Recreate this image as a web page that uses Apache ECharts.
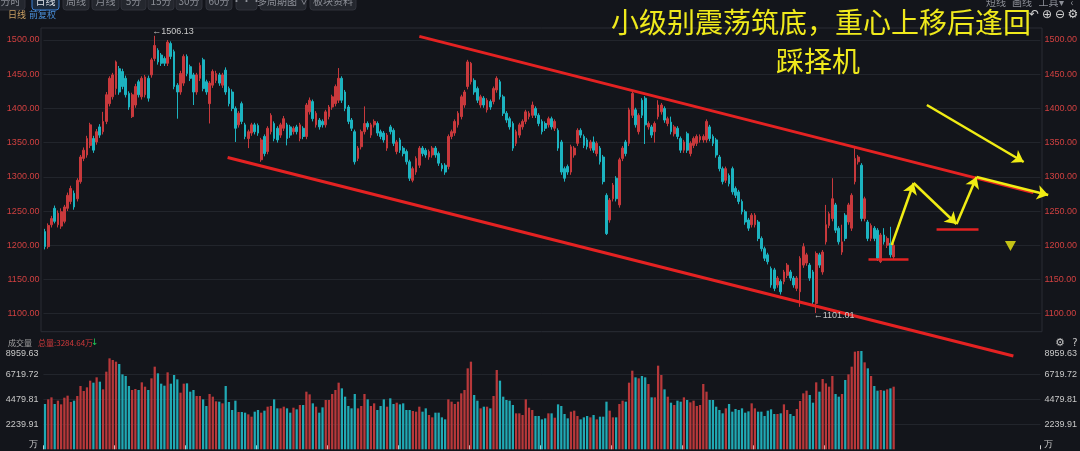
<!DOCTYPE html>
<html><head><meta charset="utf-8">
<script src="https://cdn.jsdelivr.net/npm/echarts@6/dist/echarts.min.js"></script>
<style>html,body{margin:0;padding:0;background:#13151b;}#c{width:1080px;height:451px;}</style>
</head><body><div id="c"></div>
<script>
// ---------- DATA ----------
// candles: [open, close, low, high]
const candles = [
[1220,1198,1194,1224],[1198,1229,1195,1232],[1230,1239,1226,1243],[1254,1235,1232,1258],[1230,1247,1226,1251],
[1228,1249,1224,1254],[1235,1256,1232,1259],[1254,1273,1250,1277],[1264,1283,1260,1287],[1276,1256,1252,1280],
[1268,1295,1264,1298],[1293,1329,1290,1332],[1327,1339,1323,1343],[1332,1356,1328,1360],[1346,1376,1342,1379],
[1356,1339,1335,1360],[1351,1366,1347,1370],[1373,1361,1357,1377],[1366,1381,1362,1395],[1381,1420,1377,1424],
[1407,1444,1403,1447],[1417,1449,1413,1452],[1429,1468,1420,1470],[1458,1424,1420,1462],[1454,1432,1428,1458],
[1444,1420,1416,1448],[1422,1402,1398,1425],[1388,1420,1386,1423],[1405,1432,1401,1436],[1439,1420,1416,1442],
[1417,1444,1413,1447],[1420,1446,1416,1449],[1444,1415,1410,1448],[1449,1471,1445,1474],[1473,1492,1469,1506.13],
[1485,1468,1464,1488],[1478,1466,1462,1481],[1473,1466,1462,1476],[1466,1497,1462,1500],[1495,1476,1472,1498],
[1483,1432,1428,1486],[1434,1424,1385,1437],[1424,1451,1420,1455],[1437,1476,1433,1479],[1476,1451,1447,1479],
[1461,1444,1440,1464],[1449,1424,1405,1452],[1424,1449,1420,1452],[1444,1463,1440,1467],[1471,1429,1425,1474],
[1439,1424,1420,1442],[1407,1437,1378,1440],[1434,1454,1430,1457],[1441,1451,1437,1455],[1449,1437,1433,1452],
[1434,1449,1430,1452],[1456,1424,1420,1460],[1429,1407,1403,1432],[1424,1400,1396,1428],[1400,1371,1351,1403],
[1376,1393,1372,1396],[1407,1381,1377,1410],[1376,1359,1355,1379],[1356,1366,1342,1369],
[1364,1376,1360,1379],[1376,1366,1362,1379],[1375,1364,1360,1378],[1325,1354,1322,1357],[1359,1334,1330,1362],
[1337,1371,1333,1374],[1366,1390,1362,1393],[1378,1356,1352,1381],[1371,1354,1350,1374],[1361,1376,1357,1379],
[1371,1385,1367,1389],[1376,1356,1346,1379],[1373,1361,1357,1376],[1366,1371,1362,1374],[1373,1366,1362,1376],
[1356,1376,1352,1379],[1371,1359,1355,1374],[1359,1405,1355,1408],[1395,1412,1391,1416],[1410,1385,1381,1413],
[1376,1393,1372,1396],[1383,1373,1369,1386],[1381,1376,1372,1384],[1376,1395,1372,1398],[1388,1402,1384,1405],
[1402,1417,1398,1420],[1407,1432,1403,1435],[1412,1444,1408,1459],[1444,1412,1408,1447],[1424,1400,1396,1427],
[1402,1381,1377,1405],[1383,1371,1367,1386],[1366,1322,1318,1369],[1327,1342,1323,1345],[1344,1366,1340,1369],
[1366,1378,1362,1403],[1378,1373,1369,1381],[1361,1376,1357,1379],[1376,1381,1372,1384],[1378,1364,1360,1381],
[1366,1359,1355,1369],[1364,1354,1350,1367],[1342,1361,1338,1364],[1373,1366,1362,1376],[1368,1349,1345,1371],
[1337,1351,1333,1354],[1354,1339,1335,1357],[1342,1334,1330,1345],[1337,1322,1318,1340],[1322,1298,1294,1325],
[1295,1312,1292,1315],[1307,1327,1303,1330],[1317,1342,1313,1345],[1342,1334,1330,1345],[1339,1332,1328,1342],
[1329,1337,1325,1340],[1332,1342,1328,1345],[1342,1332,1328,1345],[1334,1320,1316,1337],[1317,1312,1308,1320],
[1317,1307,1303,1320],[1315,1359,1311,1362],[1359,1366,1355,1369],[1364,1381,1360,1384],[1376,1393,1372,1396],
[1388,1417,1384,1420],[1405,1424,1401,1427],[1432,1468,1428,1471],
[1439,1466,1435,1468],[1441,1424,1420,1444],[1429,1412,1408,1432],[1405,1417,1401,1420],[1415,1405,1401,1418],
[1398,1412,1394,1415],[1410,1402,1398,1413],[1410,1429,1406,1432],[1427,1444,1423,1447],[1439,1417,1413,1442],
[1417,1393,1389,1420],[1393,1383,1379,1396],[1385,1373,1369,1388],[1378,1342,1338,1381],[1349,1366,1345,1369],
[1361,1376,1357,1379],[1373,1381,1369,1384],[1381,1395,1377,1398],[1388,1393,1384,1396],[1390,1405,1386,1410],
[1400,1390,1386,1403],[1390,1378,1374,1393],[1381,1366,1362,1384],[1378,1371,1367,1381],[1376,1385,1372,1388],
[1385,1373,1369,1388],[1371,1381,1367,1384],[1368,1342,1338,1371],[1351,1307,1303,1354],[1312,1298,1293,1315],
[1315,1307,1303,1318],[1307,1344,1303,1347],[1332,1342,1328,1345],[1349,1368,1345,1371],[1368,1361,1357,1371],
[1359,1346,1342,1362],[1354,1344,1340,1357],[1342,1351,1338,1354],[1351,1339,1335,1359],[1334,1349,1330,1352],
[1342,1322,1318,1345],[1329,1293,1289,1332],[1273,1217,1215,1276],[1237,1266,1233,1269],[1268,1288,1264,1291],
[1298,1268,1264,1301],[1259,1325,1255,1328],[1327,1342,1323,1345],[1351,1334,1330,1354],[1349,1398,1345,1401],
[1390,1422,1386,1424],[1398,1376,1372,1401],[1366,1390,1362,1393],[1412,1390,1386,1415],[1415,1376,1348,1418],
[1373,1378,1369,1381],[1373,1361,1357,1376],[1366,1378,1350,1381],[1388,1405,1384,1412],[1395,1405,1391,1408],
[1400,1383,1379,1403],[1378,1385,1374,1388],
[1380,1366,1362,1388],[1363,1373,1359,1376],[1371,1359,1355,1374],[1356,1339,1335,1359],[1339,1351,1335,1354],
[1363,1339,1335,1366],[1334,1349,1330,1352],[1346,1356,1342,1359],[1349,1359,1345,1362],[1354,1359,1350,1362],
[1354,1359,1350,1362],[1354,1381,1350,1384],[1373,1356,1352,1376],[1359,1349,1345,1362],[1354,1332,1328,1357],
[1329,1312,1308,1332],[1312,1293,1289,1315],[1295,1312,1291,1315],[1302,1290,1286,1305],[1312,1278,1274,1315],
[1283,1273,1269,1286],[1278,1264,1260,1281],[1264,1249,1245,1267],[1249,1234,1230,1252],[1237,1225,1221,1240],
[1230,1244,1226,1247],[1230,1244,1226,1247],[1234,1210,1206,1237],[1210,1195,1191,1213],[1195,1181,1177,1198],
[1186,1176,1172,1189],[1166,1142,1138,1169],[1164,1137,1133,1167],[1142,1152,1138,1155],[1147,1132,1128,1150],
[1147,1161,1143,1164],[1156,1171,1152,1174],[1161,1152,1148,1164],[1152,1142,1138,1155],[1137,1152,1133,1155],
[1132,1181,1110,1184],[1171,1198,1167,1203],[1174,1186,1170,1189],[1171,1152,1148,1174],[1161,1117,1113,1164],
[1115,1188,1101.01,1191],[1186,1171,1167,1189],[1161,1190,1157,1193],[1205,1230,1201,1259],[1229,1246,1225,1249],
[1239,1268,1235,1298],[1259,1222,1218,1262],[1225,1205,1201,1228],[1190,1205,1186,1230],[1244,1210,1206,1247],
[1234,1259,1230,1262],[1225,1273,1221,1276],[1293,1327,1289,1342],[1322,1329,1318,1332],[1317,1239,1235,1320],
[1239,1268,1235,1271],[1234,1210,1206,1237],[1210,1229,1206,1232],[1225,1210,1206,1228],[1222,1181,1177,1225],
[1176,1215,1174,1218],[1215,1205,1201,1225],[1200,1210,1196,1213],[1203,1186,1182,1227],[1183,1200,1179,1203]
];
// volume (万)
const volumes = [
4058,4476,4655,4058,4357,4028,4625,4805,4237,4357,4775,5671,5223,5552,6149,5970,6448,6059,5372,6955,
8150,8001,7851,7642,6716,6567,5671,5313,5402,5313,6000,5611,5313,6358,7403,6806,5880,5701,6896,5880,
6657,6268,5074,5880,5910,5163,5313,4775,4775,4476,3879,4954,4715,4297,4267,4118,5671,4237,3520,4357,
3341,3341,3281,3132,2923,
3371,3520,3281,3461,3819,3879,4476,3670,3670,3819,3670,3281,3729,3580,3968,3968,5163,4924,4118,3819,
3281,3759,4417,4417,4954,5313,5970,5462,4715,3879,3670,4954,3670,3879,4954,4476,3879,4118,3520,3879,
4476,3819,4566,4058,4177,4028,4118,3520,3520,3431,3371,3819,3371,3670,3072,2863,3281,3281,2863,2684,
4476,4267,4058,4267,5014,5313,7254,
7851,4865,4357,3670,3819,3819,3670,4775,7105,6149,4715,4417,4357,3968,3222,3222,3072,4476,3729,3520,
2983,2983,2684,2774,3222,3222,2833,4028,3879,3162,2774,3371,3461,2983,2684,2863,2983,2863,3072,2684,
2923,2923,4267,3461,2863,2863,4058,4357,4267,5970,7045,6448,6358,6567,6448,5850,4655,4655,7493,6657,
5372,4715,4177,3968,4357,4267,
4655,4417,4207,4357,3879,3968,5850,5163,4417,4417,3819,3520,3222,3670,4058,3371,3610,3520,3670,3281,
3400,4118,3670,3371,3371,2983,3461,3580,3162,3162,3222,4028,3520,3162,2983,3610,4327,5014,5253,4865,
4177,6000,5163,6298,5910,5611,6567,4954,4715,4954,6209,6716,7403,8748,8807,8807,7792,7254,6567,5671,
5253,5313,5253,5372,5462,5611
];
const futureSlots = 45;
const priceMin = 1050, priceMax = 1550, priceStep = 50;
const volMax = 8959.63;
const volTickLabels = ['万','2239.91','4479.81','6719.72','8959.63'];
const toolbarLabels = ['分时','日线','周线','月线','5分','15分','30分','60分','•••','多周期图 ∨','板块资料'];
const toolbarRight = ['短线','画线','工具▾','‹'];
const titleLines = ['小级别震荡筑底，重心上移后逢回','踩择机'];
const volumeHeader = ['成交量','总量:3284.64万','↓'];
// annotation geometry in data space: [candle index, price]
const trendLines = [
  [[116.0,1505.3],[306.3,1277.0]],
  [[56.6,1328.3],[300.1,1038.2]]
];
const supportLines = [
  [[255.2,1180.0],[267.6,1180.0]],
  [[276.3,1223.8],[289.3,1223.8]]
];
const arrowPaths = [
  [[262.4,1200.4],[269.2,1291.0]],
  [[269.2,1291.0],[282.5,1231.1]],
  [[282.5,1231.1],[288.7,1299.8]],
  [[288.7,1299.8],[310.9,1273.5]],
  [[273.3,1405.0],[303.3,1321.7]]
];
const triangleMark = [[299.2,1198.9]];

// ---------- BUILD ----------
const N = candles.length + futureSlots;
const categories = Array.from({length:N}, (_, i) => String(i + 1));
const UP = '#c8393c', DOWN = '#1cb3c0';
const VUP = '#b8383a', VDOWN = '#20a9b4';
const volData = volumes.map((v, i) => ({value: v, itemStyle: {color: candles[i][1] >= candles[i][0] ? VUP : VDOWN}}));

const chart = echarts.init(document.getElementById('c'), null, {renderer: 'canvas'});

const numFont = 'Liberation Sans';
const cjk = '"Noto Sans CJK SC"';
const G = [];
function txt(x, y, t, fill, size, align, family, z) {
  G.push({type: 'text', x: x, y: y, z: z || 50, silent: true,
    style: {text: t, fill: fill, font: size + 'px ' + (family || cjk),
      textAlign: align || 'left', align: align || 'left', textVerticalAlign: 'middle', verticalAlign: 'middle'}});
}
// frame of price panel
G.push({type: 'rect', z: 1, silent: true, shape: {x: 41, y: 28, width: 1001, height: 303.7}, style: {fill: 'none', stroke: '#2a2d35', lineWidth: 1}});
// toolbar
const btnLayout = [[-4,29],[32,27],[63,26],[92,27],[121,25],[148,26],[176,26],[206,26],[236,21],[260,46],[310,46]];
toolbarLabels.forEach((t, i) => {
  const [x, w] = btnLayout[i];
  const active = i === 1;
  G.push({type: 'rect', z: 40, silent: true, shape: {x: x, y: -12, width: w, height: 22, r: 3},
    style: {fill: active ? '#1b2a3d' : '#24272e', stroke: active ? '#3b7fd4' : '#30333b', lineWidth: 1}});
  txt(x + w / 2, 1, t, active ? '#e0e4ea' : '#8d9098', 10, 'center');
});
const rightLayout = [996, 1022, 1051, 1072];
toolbarRight.forEach((t, i) => txt(rightLayout[i], 2, t, '#8d9098', 10, 'center'));
txt(8, 15, '日线', '#c9a063', 9);
txt(29, 15, '前复权', '#4a8fd8', 9);
['↶', '⊕', '⊖', '⚙'].forEach((t, i) => txt(1034 + i * 13, 15, t, '#d4d4d4', 12, 'center', 'DejaVu Sans'));
// title
txt(821, 22, titleLines[0], '#efe91c', 28, 'center', cjk, 60);
txt(818, 61, titleLines[1], '#efe91c', 28, 'center', cjk, 60);
// volume header
txt(8, 343, volumeHeader[0], '#a0a0a0', 8);
txt(38, 343, volumeHeader[1], '#d0393b', 8);
txt(91, 343, volumeHeader[2], '#1fc95a', 9, 'left', 'DejaVu Sans');
txt(1060, 343, '⚙', '#c8c8c8', 11, 'center', 'DejaVu Sans');
txt(1075, 343, '?', '#c8c8c8', 10, 'center', 'DejaVu Sans');

const priceLabel = {color: '#d04040', fontSize: 9, fontFamily: numFont, showMinLabel: false, showMaxLabel: false,
  formatter: v => v.toFixed(2)};
const volLabel = {color: '#c8c8c8', fontSize: 9, fontFamily: numFont,
  verticalAlignMinLabel: 'bottom', verticalAlignMaxLabel: 'top',
  formatter: v => volTickLabels[Math.round(v / (volMax / 4))]};

const option = {
  backgroundColor: '#13151b',
  animation: false,
  grid: [
    {left: 43.4, right: 38, top: 5.8, bottom: 103.1},
    {left: 43.4, right: 38, top: 349.3, bottom: 1.7}
  ],
  xAxis: [
    {type: 'category', gridIndex: 0, data: categories, boundaryGap: true,
      axisLine: {show: false}, axisTick: {show: false}, axisLabel: {show: false}, splitLine: {show: false}},
    {type: 'category', gridIndex: 1, data: categories, boundaryGap: true,
      axisLine: {show: false}, axisLabel: {show: false}, splitLine: {show: false},
      axisTick: {show: true, interval: (i) => i % 22 === 0 && i < candles.length, inside: true, length: 4,
        lineStyle: {color: '#cfcfcf'}}},
    {type: 'value', gridIndex: 0, min: -0.5, max: N - 0.5, show: false}
  ],
  yAxis: [
    {type: 'value', gridIndex: 0, position: 'left', min: priceMin, max: priceMax, interval: priceStep,
      axisLine: {show: false}, axisTick: {show: false},
      axisLabel: Object.assign({margin: 4}, priceLabel),
      splitLine: {show: true, showMinLine: false, showMaxLine: false, lineStyle: {color: '#22252c', width: 1}}},
    {type: 'value', gridIndex: 0, position: 'right', min: priceMin, max: priceMax, interval: priceStep,
      axisLine: {show: false}, axisTick: {show: false},
      axisLabel: Object.assign({margin: 4}, priceLabel), splitLine: {show: false}},
    {type: 'value', gridIndex: 1, position: 'left', min: 0, max: volMax, interval: volMax / 4,
      axisLine: {show: false}, axisTick: {show: false},
      axisLabel: Object.assign({margin: 5}, volLabel),
      splitLine: {show: true, showMinLine: false, showMaxLine: false, lineStyle: {color: '#22252c', width: 1}}},
    {type: 'value', gridIndex: 1, position: 'right', min: 0, max: volMax, interval: volMax / 4,
      axisLine: {show: false}, axisTick: {show: false},
      axisLabel: Object.assign({margin: 4}, volLabel), splitLine: {show: false}}
  ],
  series: [
    {type: 'candlestick', xAxisIndex: 0, yAxisIndex: 0, data: candles, barWidth: '70%',
      itemStyle: {color: UP, color0: DOWN, borderColor: UP, borderColor0: DOWN, borderWidth: 1},
      markPoint: {
        symbol: 'rect', symbolSize: 1, itemStyle: {color: 'rgba(0,0,0,0)'}, silent: true,
        label: {show: true, position: 'right', distance: 0, color: '#c8c8c8', fontSize: 9, fontFamily: numFont,
          formatter: p => '←' + Number(p.value).toFixed(2)},
        data: [
          {type: 'max', valueDim: 'highest', label: {offset: [-3, -4]}},
          {type: 'min', valueDim: 'lowest', label: {offset: [-3, 3]}}
        ]
      }},
    {type: 'bar', xAxisIndex: 1, yAxisIndex: 2, data: volData, barWidth: '70%'},
    {type: 'lines', coordinateSystem: 'cartesian2d', xAxisIndex: 2, yAxisIndex: 0, clip: false, silent: true, z: 5,
      data: trendLines.map(c => ({coords: c})), symbol: 'none',
      lineStyle: {color: '#e42222', width: 3, opacity: 1}},
    {type: 'lines', coordinateSystem: 'cartesian2d', xAxisIndex: 2, yAxisIndex: 0, clip: false, silent: true, z: 5,
      data: supportLines.map(c => ({coords: c})), symbol: 'none',
      lineStyle: {color: '#e42222', width: 2.5, opacity: 1}},
    {type: 'lines', coordinateSystem: 'cartesian2d', xAxisIndex: 2, yAxisIndex: 0, clip: false, silent: true, z: 6,
      data: arrowPaths.map(c => ({coords: c})), symbol: ['none', 'arrow'], symbolSize: 11,
      lineStyle: {color: '#f0ec14', width: 2.5, opacity: 1}},
    {type: 'scatter', xAxisIndex: 2, yAxisIndex: 0, data: triangleMark, symbol: 'triangle', symbolRotate: 180,
      symbolSize: [11, 10], itemStyle: {color: '#f0ec14'}, silent: true, clip: false, z: 6}
  ],
  graphic: G
};
chart.setOption(option);
</script>
</body></html>
